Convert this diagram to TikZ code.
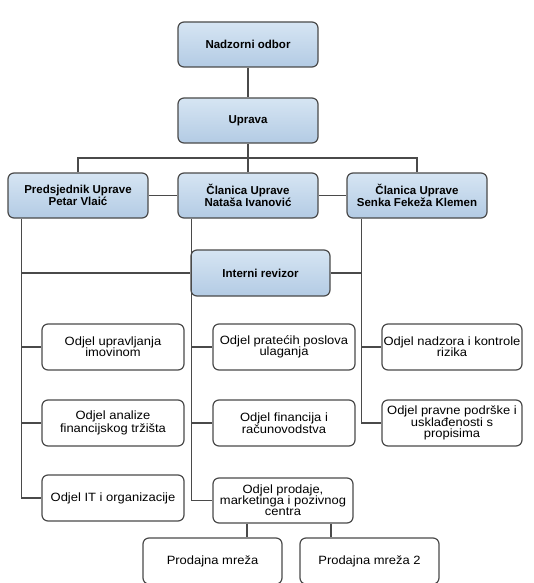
\documentclass[tikz,border=0pt]{standalone}
\usepackage{fontspec}
\setmainfont{Liberation Sans}
\newfontfamily\wfont[FakeStretch=1.08]{Liberation Sans}
\usetikzlibrary{calc}
\definecolor{linec}{HTML}{4A4A4A}
\definecolor{topc}{HTML}{D6E5F3}
\definecolor{botc}{HTML}{B3CBE4}
\begin{document}
\begin{tikzpicture}[x=1pt,y=-1pt,
  bluebox/.style={draw=linec, line width=1.2pt, rounded corners=6pt, top color=topc, bottom color=botc, minimum width=140pt, minimum height=45pt, align=center, font=\fontsize{11.5}{12.3}\selectfont\bfseries, inner sep=1pt},
  whitebox/.style={draw=linec, line width=1.2pt, rounded corners=6pt, fill=white, minimum width=142pt, minimum height=46pt, align=center, font=\wfont\fontsize{12}{11.2}\selectfont, inner sep=1pt},
  conn/.style={draw=linec, line width=1.2pt}]
\useasboundingbox (0,0) rectangle (533,583);
\clip (0,0) rectangle (533,583);
% nodes
\node[bluebox] (nad) at (248,44.5) {Nadzorni odbor};
\node[bluebox] (upr) at (248,120.5) {Uprava};
\node[bluebox] (pu) at (78,195.5) {Predsjednik Uprave\\Petar Vlaić};
\node[bluebox] (nat) at (248,195.5) {Članica Uprave\\Nataša Ivanović};
\node[bluebox] (sen) at (417,195.5) {Članica Uprave\\Senka Fekeža Klemen};
\node[bluebox, minimum width=139pt, minimum height=46pt] (rev) at (260.5,273) {Interni revizor};
\node[whitebox] (o1) at (113,347) {Odjel upravljanja\\imovinom};
\node[whitebox] (o2) at (284,347) {Odjel pratećih poslova\\ulaganja};
\node[whitebox, minimum width=140pt] (o3) at (452,347) {Odjel nadzora i kontrole\\rizika};
\node[whitebox] (o4) at (113,423) {Odjel analize\\financijskog tržišta};
\node[whitebox] (o5) at (284,423) {Odjel financija i\\računovodstva};
\node[whitebox, minimum width=140pt] (o6) at (452,423) {Odjel pravne podrške i\\usklađenosti s\\propisima};
\node[whitebox] (it) at (113,498) {Odjel IT i organizacije};
\node[whitebox, minimum width=140pt, minimum height=45pt] (prod) at (283,500.5) {Odjel prodaje,\\marketinga i pozivnog\\centra};
\node[whitebox, minimum width=139pt] (pm1) at (212.5,561) {Prodajna mreža};
\node[whitebox, minimum width=139pt] (pm2) at (369.5,561) {Prodajna mreža 2};
% coordinates
\coordinate (bar) at (248,158);
\coordinate (bl) at (78,158);
\coordinate (br) at (417,158);
\coordinate (lt) at ($(pu.south west)+(14,0)$);
\coordinate (mt) at ($(nat.south west)+(14,0)$);
\coordinate (rt) at ($(sen.south west)+(15,0)$);
\coordinate (p1) at ($(prod.south)+(-36,0)$);
\coordinate (p2) at ($(prod.south)+(48,0)$);
% connectors
\draw[conn] (nad) -- (upr);
\draw[conn] (upr.south) -- (bar);
\draw[conn] (pu.north) -- (bl) -- (br) -- (sen.north);
\draw[conn] (nat.north) -- (nat.north |- bar);
\draw[conn] (pu.east) -- (nat.west);
\draw[conn] (nat.east) -- (sen.west);
\draw[conn] (lt) |- (it.west);
\draw[conn] (lt |- rev.west) -- (rev.west);
\draw[conn] (lt |- o1.west) -- (o1.west);
\draw[conn] (lt |- o4.west) -- (o4.west);
\draw[conn] (mt) |- (prod.west);
\draw[conn] (mt |- o2.west) -- (o2.west);
\draw[conn] (mt |- o5.west) -- (o5.west);
\draw[conn] (rt) |- (o6.west);
\draw[conn] (rt |- o3.west) -- (o3.west);
\draw[conn] (rev.east) -- (rev.east -| rt);
\draw[conn] (p1) -- (p1 |- pm1.north);
\draw[conn] (p2) -- (p2 |- pm2.north);
\end{tikzpicture}
\end{document}
